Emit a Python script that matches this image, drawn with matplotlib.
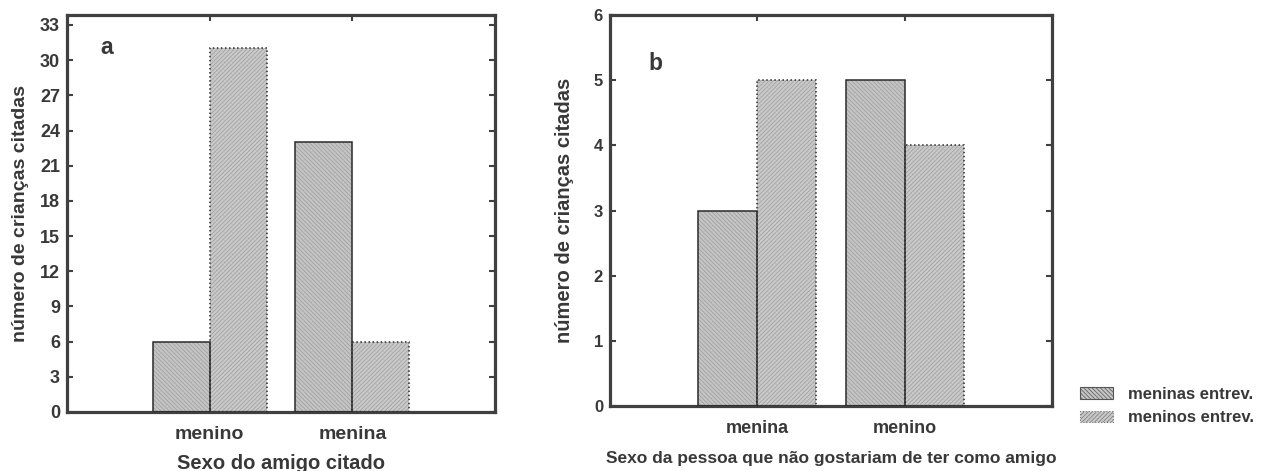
import matplotlib
matplotlib.use("Agg")
import matplotlib.pyplot as plt
import matplotlib.patches as mpatches
import numpy as np

# Data
cat_a = ['menino', 'menina']
meninas_a = [6, 23]
meninos_a = [31, 6]

cat_b = ['menina', 'menino']
meninas_b = [3, 5]
meninos_b = [5, 4]

ticks_a = list(range(0, 34, 3))
ticks_b = list(range(0, 7))

series_names = ['meninas entrev.', 'meninos entrev.']

# Styles
txt = '#383838'
spine_c = '#404040'
face_1 = '#c4c4c4'
face_2 = '#c9c9c9'
hatch_c = '#9c9c9c'
h1 = '\\\\\\\\\\\\\\\\'
h2 = '////////'
bw = 0.4

plt.rcParams['font.family'] = 'Liberation Sans'
plt.rcParams['font.weight'] = 'bold'
plt.rcParams['axes.labelweight'] = 'bold'
plt.rcParams['hatch.linewidth'] = 0.5
plt.rcParams['hatch.color'] = hatch_c

fig = plt.figure(figsize=(12.66, 4.71), dpi=100)
ax_a = fig.add_axes([67/1266, 1-412/471, (495-67)/1266, (412-15)/471])
ax_b = fig.add_axes([610/1266, 1-406/471, (1052-610)/1266, (406-15)/471])


def draw_bars(ax, x, vals, face, hatch, ls):
    ax.bar(x, vals, bw, color=face, edgecolor=hatch_c, hatch=hatch,
           linewidth=0, zorder=2)
    ax.bar(x, vals, bw, fill=False, edgecolor='#2a2a2a', linewidth=1.1,
           linestyle=ls, zorder=3)


def style_axes(ax, cats, yticks, ymax, fs_tick, fs_cat):
    ax.set_xlim(-1, 2)
    ax.set_ylim(0, ymax)
    ax.set_xticks(range(len(cats)))
    ax.set_xticklabels(cats, fontsize=fs_cat, color=txt)
    ax.set_yticks(yticks)
    ax.set_yticklabels([str(t) for t in yticks], fontsize=fs_tick, color=txt)
    ax.tick_params(direction='in', length=4, width=1.5, color=spine_c,
                   top=True, right=True, pad=5)
    ax.tick_params(axis='x', pad=10)
    for s in ax.spines.values():
        s.set_linewidth(2.3)
        s.set_color(spine_c)


# Panel a
x = np.arange(len(cat_a))
draw_bars(ax_a, x - bw/2, meninas_a, face_1, h1, '-')
draw_bars(ax_a, x + bw/2, meninos_a, face_2, h2, ':')
style_axes(ax_a, cat_a, ticks_a, 33.85, 13, 14)
ax_a.set_ylabel('número de crianças citadas', fontsize=14, color=txt, labelpad=8)
ax_a.set_xlabel('Sexo do amigo citado', fontsize=14.5, color=txt, labelpad=8)
ax_a.text(-0.72, 31.1, 'a', fontsize=16.5, color=txt, ha='center', va='center')

# Panel b
x = np.arange(len(cat_b))
draw_bars(ax_b, x - bw/2, meninas_b, face_1, h1, '-')
draw_bars(ax_b, x + bw/2, meninos_b, face_2, h2, ':')
style_axes(ax_b, cat_b, ticks_b, 6, 12, 13)
ax_b.set_ylabel('número de crianças citadas', fontsize=14.5, color=txt, labelpad=14)
ax_b.set_xlabel('Sexo da pessoa que não gostariam de ter como amigo',
                fontsize=12.5, color=txt, labelpad=10)
ax_b.text(-0.69, 5.26, 'b', fontsize=16.5, color=txt, ha='center', va='center')

# Legend
handles = [
    mpatches.Patch(facecolor=face_1, edgecolor='#555555', hatch=h1, linewidth=0.8),
    mpatches.Patch(facecolor=face_2, edgecolor='#777777', hatch=h2, linewidth=0.8,
                   linestyle=':'),
]
fig.legend(handles, series_names, loc='center left',
           bbox_to_anchor=(1078/1266, 1-406/471), frameon=False,
           fontsize=12, labelcolor=txt, handlelength=2.0, handleheight=0.7,
           handletextpad=0.9, labelspacing=0.5, borderaxespad=0, borderpad=0.1)

fig.savefig('out.png', dpi=100)
